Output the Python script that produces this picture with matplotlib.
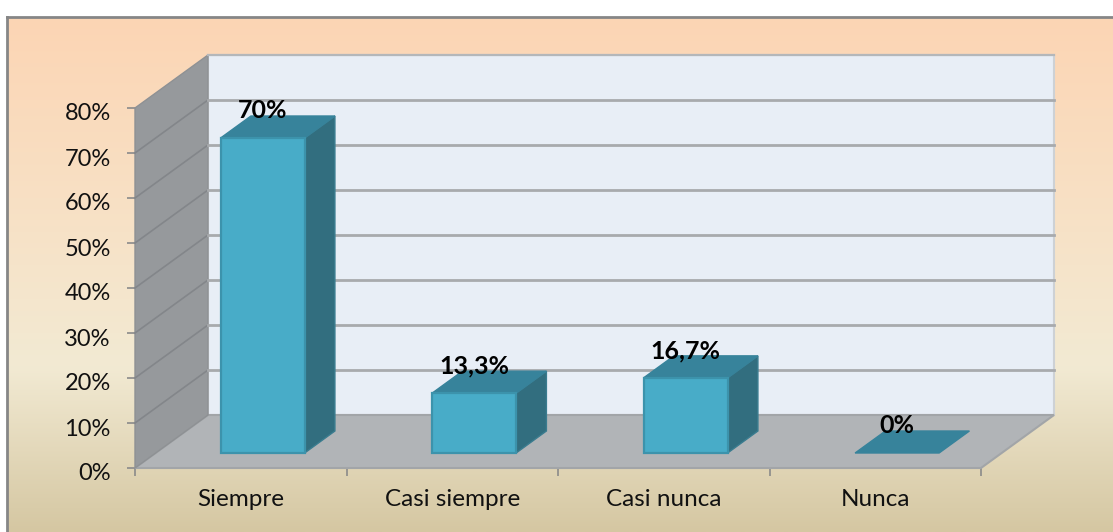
import numpy as np
import matplotlib
matplotlib.use("Agg")
import matplotlib.pyplot as plt
from matplotlib.colors import LinearSegmentedColormap
from matplotlib.patches import Polygon
from matplotlib.transforms import ScaledTranslation

categories = ["Siempre", "Casi siempre", "Casi nunca", "Nunca"]
values = [70, 13.3, 16.7, 0]
value_labels = ["70%", "13,3%", "16,7%", "0%"]
y_ticks = [0, 10, 20, 30, 40, 50, 60, 70, 80]

W, H = 1113, 532
plt.rcParams["font.family"] = ["Lato", "DejaVu Sans"]

fig = plt.figure(figsize=(W / 100, H / 100), dpi=100, facecolor="white")

# panel behind the chart, gradient top to bottom
bg = fig.add_axes([7 / W, 0, (W - 7) / W, (H - 17) / H])
cmap = LinearSegmentedColormap.from_list(
    "panel", [(0, "#FCD5B4"), (0.35, "#F8E0C4"), (0.68, "#F2EAD3"), (1, "#D5C7A2")])
bg.imshow(np.linspace(0, 1, 256).reshape(-1, 1), aspect="auto", cmap=cmap)
bg.set_xticks([])
bg.set_yticks([])
for name, sp in bg.spines.items():
    sp.set_color("#868686")
    sp.set_linewidth(2)
bg.spines["right"].set_visible(False)
bg.spines["bottom"].set_visible(False)

# front plane of the 3d box: x in categories, y in percent
ax = fig.add_axes([135 / W, (H - 468) / H, 846 / W, 360 / H])
ax.patch.set_visible(False)
ax.set_xlim(0, 4)
ax.set_ylim(0, 80)

# one unit of depth in data units
DX = 73 / 211.5
DY = 53 / 4.5


def pt(x, y, d):
    return (x + d * DX, y + d * DY)


def face(pts, color, edge=None, z=1, lw=1.0):
    ax.add_patch(Polygon(pts, closed=True, facecolor=color, edgecolor=edge or color,
                         linewidth=lw, clip_on=False, zorder=z))


# walls and floor
face([pt(0, 0, 1), pt(4, 0, 1), pt(4, 80, 1), pt(0, 80, 1)], "#E8EEF6", "#CDD1D5", 1, 1.5)
face([pt(0, 0, 0), pt(0, 0, 1), pt(4, 0, 1), pt(4, 0, 0)], "#B1B4B7", "#A2A5A8", 2, 1.5)
face([pt(0, 0, 0), pt(0, 0, 1), pt(0, 80, 1), pt(0, 80, 0)], "#96999C", "#8E9194", 2, 1.0)

for t in y_ticks[1:-1]:
    x0, y0 = pt(0, t, 0)
    x1, y1 = pt(0, t, 1)
    x2, y2 = pt(4, t, 1)
    ax.plot([x0, x1], [y0, y1], color="#83868A", lw=1.2, clip_on=False, zorder=3)
    ax.plot([x1, x2], [y1, y2], color="#A8AAAD", lw=2.0, clip_on=False, zorder=3)
x1, y1 = pt(0, 80, 1)
x2, y2 = pt(4, 80, 1)
ax.plot([x1, x2], [y1, y2], color="#B4B7BA", lw=1.6, clip_on=False, zorder=3)

# bars
bar_w = 84 / 211.5
d_front, d_back = 15 / 53, 37 / 53
shift = 1.2 / 211.5
for i, v in enumerate(values):
    left = i + 0.5 - bar_w / 2 + shift
    right = left + bar_w
    if v > 0:
        face([pt(right, 0, d_front), pt(right, 0, d_back), pt(right, v, d_back), pt(right, v, d_front)],
             "#326E7F", "#3A7C8F", 4)
        face([pt(left, v, d_front), pt(right, v, d_front), pt(right, v, d_back), pt(left, v, d_back)],
             "#37839B", "#37839B", 4)
        face([pt(left, 0, d_front), pt(right, 0, d_front), pt(right, v, d_front), pt(left, v, d_front)],
             "#48ACC8", "#3C93AC", 5, 1.6)
    else:
        face([pt(left, 0, d_front), pt(right, 0, d_front), pt(right, 0, d_back), pt(left, 0, d_back)],
             "#37839B", "#37839B", 4)
    lx, ly = pt(i + 0.5 + shift, v, d_front)
    ax.annotate(value_labels[i], (lx, ly), xytext=(0, 19.5), textcoords="offset points",
                ha="center", va="center", fontsize=18, fontweight="bold",
                color="black", zorder=6, annotation_clip=False)

# axes ticks
for sp in ax.spines.values():
    sp.set_visible(False)
ax.set_yticks(y_ticks)
ax.set_yticklabels([f"{t}%" for t in y_ticks])
ax.set_xticks(range(5))
ax.set_xticklabels([])
ax.set_xticks(np.arange(4) + 0.5, minor=True)
ax.set_xticklabels(categories, minor=True)
ax.tick_params(axis="y", length=6, width=1.2, color="#8A8A8A", labelsize=17, pad=11.5, labelcolor="#111111")
ax.tick_params(axis="x", which="major", length=6, width=1.2, color="#8A8A8A")
ax.tick_params(axis="x", which="minor", length=0, labelsize=17.5, pad=15, labelcolor="#111111")
down = ScaledTranslation(0, -4 / 100, fig.dpi_scale_trans)
for lab in ax.get_yticklabels():
    lab.set_transform(lab.get_transform() + down)

fig.savefig("out.png", dpi=100)
